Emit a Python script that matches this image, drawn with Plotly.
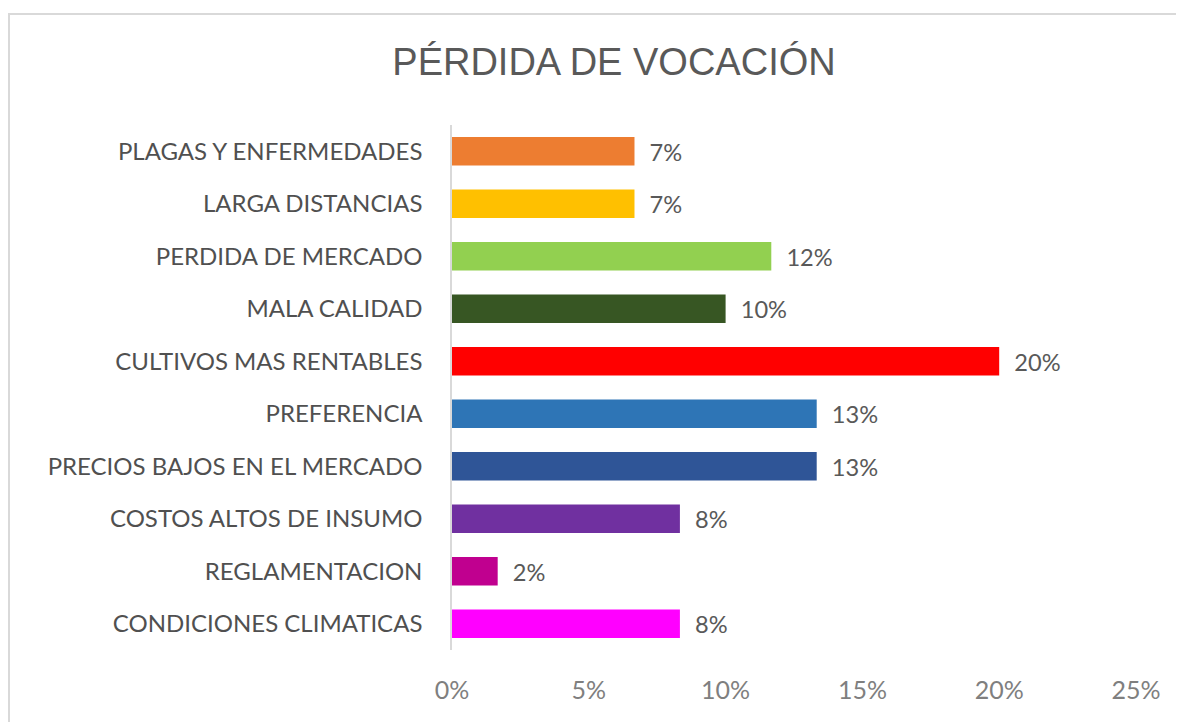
import plotly.graph_objects as go

categories = [
    "PLAGAS Y ENFERMEDADES",
    "LARGA DISTANCIAS",
    "PERDIDA DE MERCADO",
    "MALA CALIDAD",
    "CULTIVOS MAS RENTABLES",
    "PREFERENCIA",
    "PRECIOS BAJOS EN EL MERCADO",
    "COSTOS ALTOS DE INSUMO",
    "REGLAMENTACION",
    "CONDICIONES CLIMATICAS",
]
values = [0.0667, 0.0667, 0.1167, 0.10, 0.20, 0.1333, 0.1333, 0.0833, 0.0167, 0.0833]
colors = ["#ED7D31", "#FFC000", "#92D050", "#375623", "#FF0000",
          "#2E75B6", "#2F5597", "#7030A0", "#C0008F", "#FF00FF"]
tick_vals = [0, 0.05, 0.10, 0.15, 0.20, 0.25]
tick_text = ["0%", "5%", "10%", "15%", "20%", "25%"]

label_font = "Lato, Open Sans, sans-serif"
title_font = "Liberation Sans, Arial, sans-serif"

fig = go.Figure(go.Bar(
    x=values, y=categories, orientation="h",
    marker=dict(color=colors, line=dict(width=0)),
    texttemplate="\u00a0\u00a0%{x:.0%}", textposition="outside",
    textfont=dict(family=label_font, size=25, color="#595959"),
    cliponaxis=False,
))

# the page body adds an 8px offset; layout sizes below compensate for it
OFF = 8
W, H = 1184 - OFF, 722 - OFF
L, R, T, B = 452 - OFF, 48, 125 - OFF, 72
pw, ph = W - L - R, H - T - B

def px2x(px):
    return (px - OFF - L) / pw

def py2y(py):
    return 1 - (py - OFF - T) / ph

fig.add_shape(type="rect", xref="paper", yref="paper",
              x0=px2x(9), x1=px2x(1200), y0=py2y(760), y1=py2y(14),
              line=dict(color="#D9D9D9", width=2), fillcolor="rgba(0,0,0,0)", layer="below")

fig.update_layout(
    width=W, height=H,
    margin=dict(l=L, r=R, t=T, b=B),
    paper_bgcolor="white", plot_bgcolor="white",
    showlegend=False,
    bargap=0.46,
    title=dict(text="PÉRDIDA DE VOCACIÓN", x=(614 - OFF) / W, xanchor="center",
               y=1 - (62 - OFF) / H, yanchor="middle", xref="container", yref="container",
               font=dict(family=title_font, size=38, color="#595959")),
    xaxis=dict(range=[0, 0.25], tickvals=tick_vals, ticktext=tick_text,
               showgrid=False, zeroline=False, showline=False,
               ticks="", ticklabelstandoff=23,
               tickfont=dict(family=label_font, size=25, color="#7F7F7F")),
    yaxis=dict(autorange="reversed", showgrid=False, zeroline=False,
               showline=True, linecolor="#D9D9D9", linewidth=1.5,
               ticks="", ticklabelstandoff=23,
               tickfont=dict(family=label_font, size=24, color="#505050")),
)

fig.write_html("out.html")
